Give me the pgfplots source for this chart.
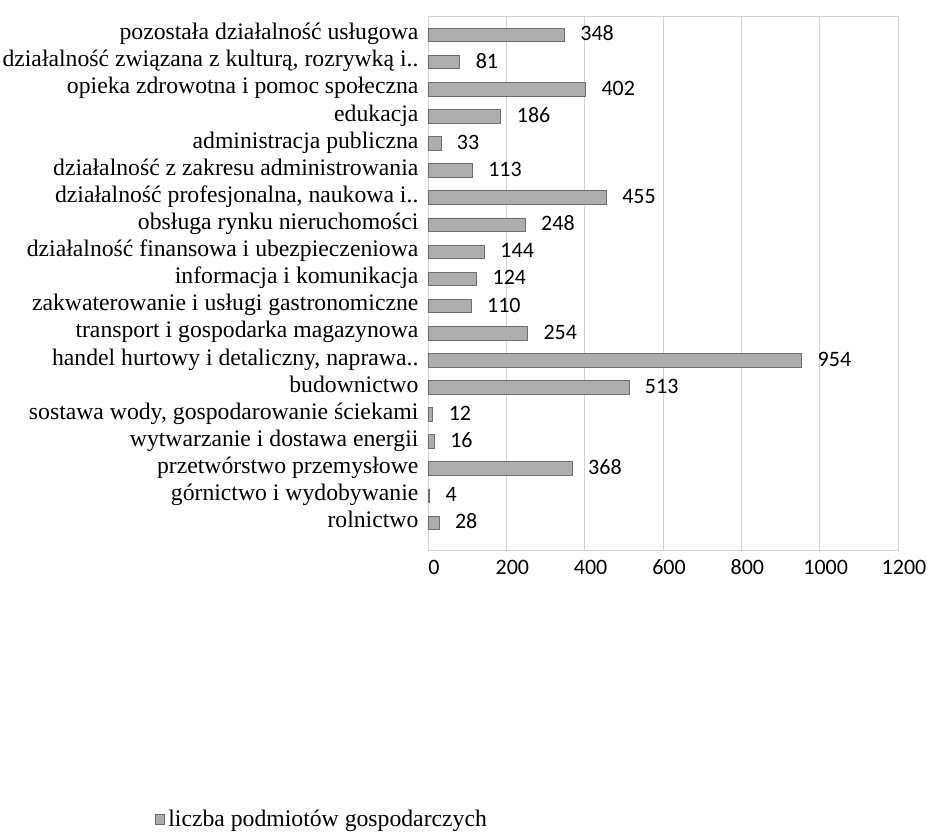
\documentclass[border=0pt]{standalone}
\usepackage{pgfplots}
\pgfplotsset{compat=1.18}
\usepackage{fontspec}
\setmainfont{Liberation Serif}
\newfontfamily\numfont{Carlito}
\definecolor{barfill}{HTML}{ADADAD}
\definecolor{barline}{HTML}{6E6E6E}
\begin{document}
\begin{tikzpicture}
\path[use as bounding box] (0,0) rectangle (466pt,416pt);
\begin{axis}[
  at={(214pt,141pt)}, anchor=south west,
  scale only axis, width=235pt, height=267pt,
  xbar, bar width=6.8pt,
  xmin=0, xmax=1200, xtick={0,200,...,1200},
  ymin=-1.0, ymax=18.7,
  ytick={0,...,18},
  yticklabels={rolnictwo,
    górnictwo i wydobywanie,
    przetwórstwo przemysłowe,
    wytwarzanie i dostawa energii,
    {sostawa wody, gospodarowanie ściekami},
    budownictwo,
    {handel hurtowy i detaliczny, naprawa..},
    transport i gospodarka magazynowa,
    zakwaterowanie i usługi gastronomiczne,
    informacja i komunikacja,
    działalność finansowa i ubezpieczeniowa,
    obsługa rynku nieruchomości,
    {działalność profesjonalna, naukowa i..},
    działalność z zakresu administrowania,
    administracja publiczna,
    edukacja,
    opieka zdrowotna i pomoc społeczna,
    {działalność związana z kulturą, rozrywką i..},
    pozostała działalność usługowa},
  y tick label style={font=\fontsize{11.85}{13}\selectfont, xshift=3pt,
    text height=0.7em, text depth=0.22em},
  x tick label style={font=\numfont\fontsize{11}{12}\selectfont, yshift=-1.5pt, xshift=3pt,
    text height=0.7em, text depth=0.2em},
  /pgf/number format/assume math mode=true,
  /pgf/number format/1000 sep={},
  xmajorgrids, major grid style={draw=gray!35},
  axis line style={draw=gray!35},
  tick style={draw=none},
  nodes near coords,
  nodes near coords style={font=\numfont\fontsize{11}{12}\selectfont, anchor=west, xshift=4.5pt, text=black,
    text height=0.7em, text depth=0.2em, yshift=-0.5pt},
  legend style={at={(-0.595,-0.505)}, anchor=west, draw=none, fill=none,
    font=\fontsize{11.85}{13}\selectfont},
  legend image code/.code={\draw[fill=barfill, draw=barline, line width=0.3pt] (0pt,-2.5pt) rectangle (4.5pt,2.5pt);},
]
\addplot[fill=barfill, draw=barline, line width=0.4pt] coordinates {
  (28,0) (4,1) (368,2) (16,3) (12,4) (513,5) (954,6) (254,7) (110,8) (124,9)
  (144,10) (248,11) (455,12) (113,13) (33,14) (186,15) (402,16) (81,17) (348,18)
};
\addlegendentry{liczba podmiotów gospodarczych}
\end{axis}
\end{tikzpicture}
\end{document}
